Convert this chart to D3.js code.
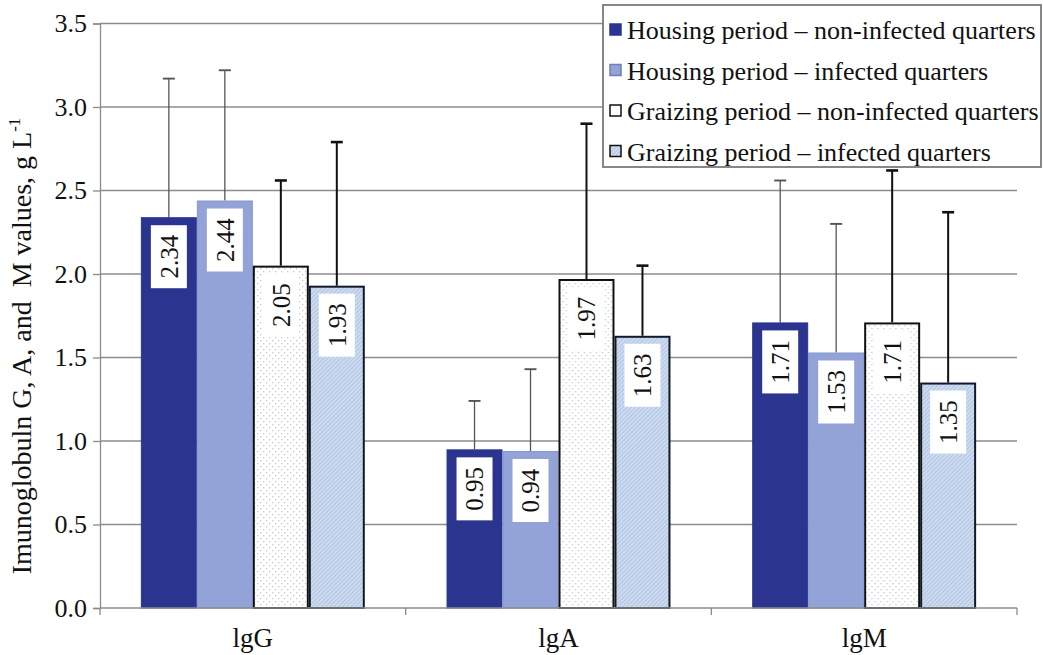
<!DOCTYPE html>
<html>
<head>
<meta charset="utf-8">
<script src="https://cdn.jsdelivr.net/npm/d3@7"></script>
<style>
  html, body { margin: 0; padding: 0; background: #fff; }
  svg { display: block; }
  text { font-family: "Liberation Serif", "Times New Roman", serif; fill: #111; }
</style>
</head>
<body>
<svg id="chart" width="1043" height="655"></svg>
<script>
// Immunoglobulin classes on the x axis
const categories = ["lgG", "lgA", "lgM"];
// Series (period / quarter status)
const seriesNames = [
  "Housing period \u2013 non-infected quarters",
  "Housing period \u2013 infected quarters",
  "Graizing period \u2013 non-infected quarters",
  "Graizing period \u2013 infected quarters"
];
// Mean values, g L-1, one array per series (order follows categories)
const housingNonInfected = [2.34, 0.95, 1.71];
const housingInfected    = [2.44, 0.94, 1.53];
const grazingNonInfected = [2.05, 1.97, 1.71];
const grazingInfected    = [1.93, 1.63, 1.35];
// Upper end of each error bar (mean + deviation), g L-1
const housingNonInfectedUpper = [3.17, 1.24, 2.56];
const housingInfectedUpper    = [3.22, 1.43, 2.30];
const grazingNonInfectedUpper = [2.56, 2.90, 2.62];
const grazingInfectedUpper    = [2.79, 2.05, 2.37];
// Y axis ticks
const yTicks = [0, 0.5, 1.0, 1.5, 2.0, 2.5, 3.0, 3.5];

const seriesValues = [housingNonInfected, housingInfected, grazingNonInfected, grazingInfected];
const seriesUpper = [housingNonInfectedUpper, housingInfectedUpper, grazingNonInfectedUpper, grazingInfectedUpper];

const FONT = "Liberation Serif, Times New Roman, serif";
const svg = d3.select("#chart");
const defs = svg.append("defs");

// Fine dotted fill
const dots = defs.append("pattern").attr("id", "dots")
  .attr("width", 6).attr("height", 6).attr("patternUnits", "userSpaceOnUse");
dots.append("rect").attr("width", 6).attr("height", 6).attr("fill", "#fff");
dots.append("rect").attr("x", 1).attr("y", 1).attr("width", 1.3).attr("height", 1.3).attr("fill", "#c4c8d0");
dots.append("rect").attr("x", 4).attr("y", 4).attr("width", 1.3).attr("height", 1.3).attr("fill", "#c4c8d0");

// Light blue diagonal hatch
const hatch = defs.append("pattern").attr("id", "hatch")
  .attr("width", 3).attr("height", 3).attr("patternUnits", "userSpaceOnUse")
  .attr("patternTransform", "rotate(45)");
hatch.append("rect").attr("width", 3).attr("height", 3).attr("fill", "#cddbf0");
hatch.append("line").attr("x1", 0).attr("y1", 0).attr("x2", 0).attr("y2", 3)
  .attr("stroke", "#9fb5d9").attr("stroke-width", 1.2);

const styles = [
  { fill: "#2b3590", stroke: "#2b3590", sw: 1,   err: "#555", errW: 1.3 },
  { fill: "#93a3d7", stroke: "#8796cc", sw: 1,   err: "#555", errW: 1.3 },
  { fill: "url(#dots)", stroke: "#111", sw: 2,   err: "#111", errW: 2 },
  { fill: "url(#hatch)", stroke: "#111827", sw: 2, err: "#111", errW: 2 }
];

const plotLeft = 100, plotRight = 1017, plotTop = 23.5, plotBottom = 608;

const y = d3.scaleLinear().domain([0, 3.5]).range([plotBottom, plotTop]);
const x0 = d3.scaleBand().domain(categories).range([plotLeft, plotRight]).padding(0);
const x1 = d3.scaleBand().domain(d3.range(seriesNames.length))
  .range([0, x0.bandwidth()]).paddingInner(0).paddingOuter(0.73);

// Horizontal gridlines
svg.append("g")
  .selectAll("line").data(yTicks.filter(t => t > 0)).join("line")
  .attr("x1", plotLeft).attr("x2", plotRight)
  .attr("y1", d => y(d)).attr("y2", d => y(d))
  .attr("stroke", "#8c8c8c").attr("stroke-width", 1.3);

// Y axis
const yAxis = svg.append("g").attr("transform", `translate(${plotLeft},0)`)
  .call(d3.axisLeft(y).tickValues(yTicks).tickFormat(d3.format(".1f")).tickSize(7).tickPadding(6))
  .attr("font-family", FONT).attr("font-size", 26);
yAxis.select(".domain").attr("stroke", "#8c8c8c").attr("stroke-width", 1.3);
yAxis.selectAll(".tick line").attr("stroke", "#8c8c8c").attr("stroke-width", 1.3);
yAxis.selectAll(".tick text").attr("fill", "#222");

// Bars
const groups = svg.append("g").selectAll("g")
  .data(categories).join("g")
  .attr("transform", c => `translate(${x0(c)},0)`);

groups.each(function(c, ci) {
  const g = d3.select(this);
  seriesValues.forEach((vals, si) => {
    const st = styles[si];
    const bx = x1(si), bw = x1.bandwidth();
    const v = vals[ci];
    // error bar (upper only)
    const cx = bx + bw / 2;
    g.append("line")
      .attr("x1", cx).attr("x2", cx)
      .attr("y1", y(v)).attr("y2", y(seriesUpper[si][ci]))
      .attr("stroke", st.err).attr("stroke-width", st.errW);
    g.append("line")
      .attr("x1", cx - 6).attr("x2", cx + 6)
      .attr("y1", y(seriesUpper[si][ci])).attr("y2", y(seriesUpper[si][ci]))
      .attr("stroke", st.err).attr("stroke-width", st.errW + 0.6);
    // bar
    g.append("rect")
      .attr("x", bx + st.sw / 2).attr("y", y(v) + st.sw / 2)
      .attr("width", bw - st.sw).attr("height", y(0) - y(v) - st.sw / 2)
      .attr("fill", st.fill).attr("stroke", st.stroke).attr("stroke-width", st.sw);
    // value label in white box
    const boxW = 36, boxH = 63;
    const top = y(v) + 8;
    g.append("rect")
      .attr("x", cx - boxW / 2).attr("y", top)
      .attr("width", boxW).attr("height", boxH)
      .attr("fill", "#fff");
    g.append("text")
      .attr("transform", `translate(${cx},${top + boxH / 2}) rotate(-90)`)
      .attr("text-anchor", "middle").attr("dy", "0.35em")
      .attr("font-size", 25)
      .text(d3.format(".2f")(v));
  });
});

// X axis
svg.append("line")
  .attr("x1", plotLeft).attr("x2", plotRight)
  .attr("y1", plotBottom).attr("y2", plotBottom)
  .attr("stroke", "#8c8c8c").attr("stroke-width", 1.3);
svg.append("g").selectAll("line")
  .data(categories.concat(["end"])).join("line")
  .attr("x1", (d, i) => plotLeft + i * x0.step()).attr("x2", (d, i) => plotLeft + i * x0.step())
  .attr("y1", plotBottom).attr("y2", plotBottom + 7)
  .attr("stroke", "#8c8c8c").attr("stroke-width", 1.3);
svg.append("g").selectAll("text")
  .data(categories).join("text")
  .attr("x", c => x0(c) + x0.bandwidth() / 2)
  .attr("y", 647)
  .attr("text-anchor", "middle")
  .attr("font-size", 27)
  .text(c => c);

// Y axis title
const yTitle = svg.append("text")
  .attr("transform", "translate(31,346) rotate(-90)")
  .attr("text-anchor", "middle")
  .attr("font-size", 28);
yTitle.append("tspan").text("Imunoglobuln G, A, and\u00a0\u00a0M values, g L");
yTitle.append("tspan").attr("font-size", 17).attr("dy", -11).text("-1");

// Legend
const legend = svg.append("g");
legend.append("rect")
  .attr("x", 603).attr("y", 5).attr("width", 438).attr("height", 162)
  .attr("fill", "#fff").attr("stroke", "#7a7a7a").attr("stroke-width", 1.8);
const legendMarks = [
  { fill: "#2b3590", stroke: "#2b3590" },
  { fill: "#93a3d7", stroke: "#6d7fb8" },
  { fill: "#fff", stroke: "#111" },
  { fill: "url(#hatch)", stroke: "#111" }
];
const rows = legend.selectAll("g").data(seriesNames).join("g")
  .attr("transform", (d, i) => `translate(0,${30 + i * 40.5})`);
rows.append("rect")
  .attr("x", 610).attr("y", -6).attr("width", 11).attr("height", 11)
  .attr("fill", (d, i) => legendMarks[i].fill)
  .attr("stroke", (d, i) => legendMarks[i].stroke).attr("stroke-width", 1.5);
rows.append("text")
  .attr("x", 627).attr("y", 0).attr("dy", "0.35em")
  .attr("font-size", 26)
  .text(d => d);
</script>
</body>
</html>
